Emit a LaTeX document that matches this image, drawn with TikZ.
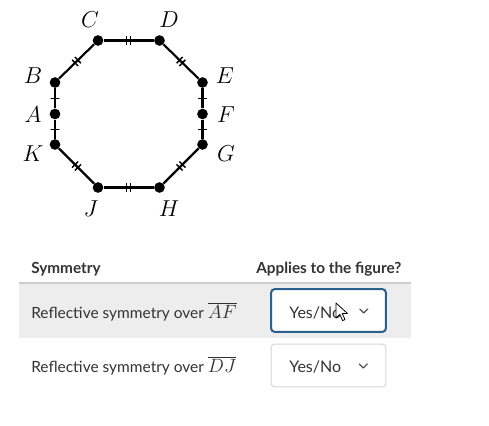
\documentclass[tikz,border=0pt]{standalone}
\usepackage{fontspec}
\newfontfamily\uifont{Lato}
\usepackage{tikz}
\usetikzlibrary{calc}
\definecolor{ink}{HTML}{333333}
\definecolor{band}{HTML}{EDEDED}
\definecolor{rulegray}{HTML}{CDCDCD}
\definecolor{focus}{HTML}{2B5F8E}
\definecolor{edgegray}{HTML}{D6D6D6}
\newcommand{\segbar}[1]{{\fontsize{14.5}{16}\selectfont$\overline{#1}$}}

\begin{document}
\begin{tikzpicture}[x=0.75pt, y=-0.75pt,
  vtx/.style={circle, fill=black, inner sep=0pt, minimum size=8pt},
  side/.style={line width=1.6pt},
  tick/.style={sloped, draw, line width=1.1pt, rectangle, inner sep=0pt, minimum width=0pt, minimum height=6.5pt},
  lbl/.style={font=\fontsize{16}{18}\selectfont, inner sep=0pt},
  txt/.style={font=\uifont\fontsize{11.6}{14}\selectfont, text=ink, anchor=base west, inner sep=0pt},
  head/.style={txt, font=\uifont\bfseries\fontsize{11.5}{14}\selectfont},
  select/.style={rectangle, rounded corners=2.5pt, fill=white, minimum width=86pt, minimum height=32pt, line width=0.75pt, draw=edgegray},
  chev/.style={line width=0.9pt, draw=ink!85, line cap=round, line join=round},
]
\fill[white] (0,0) rectangle (489,425);
\useasboundingbox (0,0) rectangle (489,425);

\node[vtx] (c) at (98,40.5) {};
\node[vtx] (d) at (159.5,40.5) {};
\node[vtx] (e) at (202.5,82.5) {};
\node[vtx] (f) at (202.5,114) {};
\node[vtx] (g) at (202.5,144.5) {};
\node[vtx] (h) at (159.5,187.5) {};
\node[vtx] (j) at (98,187.5) {};
\node[vtx] (k) at (55,144.5) {};
\node[vtx] (a) at (55,114) {};
\node[vtx] (b) at (55,82.5) {};

\draw[side] (b) -- node[tick,pos=.46]{} node[tick,pos=.54]{} (c);
\draw[side] (c) -- node[tick,pos=.46]{} node[tick,pos=.54]{} (d);
\draw[side] (d) -- node[tick,pos=.46]{} node[tick,pos=.54]{} (e);
\draw[side] (e) -- node[tick]{} (f);
\draw[side] (f) -- node[tick]{} (g);
\draw[side] (g) -- node[tick,pos=.46]{} node[tick,pos=.54]{} (h);
\draw[side] (h) -- node[tick,pos=.46]{} node[tick,pos=.54]{} (j);
\draw[side] (j) -- node[tick,pos=.46]{} node[tick,pos=.54]{} (k);
\draw[side] (k) -- node[tick]{} (a);
\draw[side] (a) -- node[tick]{} (b);

\node[lbl] (lc) at (90,20) {$C$};
\node[lbl] (ld) at (169,20) {$D$};
\node[lbl] (le) at (225,76) {$E$};
\node[lbl] (lf) at (226,115) {$F$};
\node[lbl] (lg) at (226,154) {$G$};
\node[lbl] (lh) at (169,209) {$H$};
\node[lbl] (lj) at (91,209) {$J$};
\node[lbl] (lk) at (33,154) {$K$};
\node[lbl] (la) at (33,115) {$A$};
\node[lbl] (lb) at (33,76) {$B$};

\fill[band] (19,283) rectangle (411,338);
\draw[rulegray, line width=1.5pt] (19,283) -- (411,283);

\node[head] (hsym) at (31,273) {Symmetry};
\node[head] (happ) at (256,273) {Applies to the figure?};

\node[txt] (row1) at (31,318) {Reflective symmetry over \segbar{AF}};
\node[txt] (row2) at (31,372) {Reflective symmetry over \segbar{DJ}};

\node[select, draw=focus, line width=1.5pt] (sel1) at (328.5,310.5) {};
\node[select] (sel2) at (328.5,365.5) {};
\node[txt, font=\uifont\fontsize{12}{14}\selectfont] (yn1) at (289,318) {Yes/No};
\node[txt, font=\uifont\fontsize{12}{14}\selectfont] (yn2) at (289,372) {Yes/No};
\draw[chev] ($(sel1.east)+(-27,-1.5)$) -- ++(4,4) -- ++(4,-4);
\draw[chev] ($(sel2.east)+(-27,-1.5)$) -- ++(4,4) -- ++(4,-4);

\filldraw[fill=white, draw=black, line width=0.6pt, line join=round]
  (336,303) -- ++(0,15) -- ++(3.8,-3.6) -- ++(2.8,6.2) -- ++(2.4,-1.1) -- ++(-2.8,-6.1) -- ++(5.2,0) -- cycle;
\end{tikzpicture}
\end{document}
